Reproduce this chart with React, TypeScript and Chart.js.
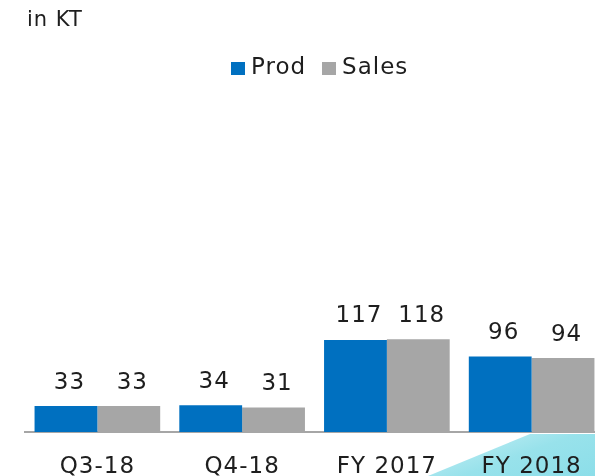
import React, { useEffect, useRef } from "react";
import { Chart, registerables } from "chart.js";

Chart.register(...registerables);

// ---- data ----
const categories = ["Q3-18", "Q4-18", "FY 2017", "FY 2018"];
const prodValues = [33, 34, 117, 96];
const salesValues = [33, 31, 118, 94];
const seriesNames = ["Prod", "Sales"];
const seriesColors = ["#0070C0", "#A6A6A6"];
const unitLabel = "in KT";
const yMin = 0;
const yMax = 200;

const FONT = '"DejaVu Sans", Verdana, sans-serif';
const TEXT_COLOR = "#1e1e1e";

const spacingPlugin = {
  id: "letterSpacing",
  beforeDraw(chart: any) {
    (chart.ctx as any).letterSpacing = "1px";
  },
};

const valueLabelPlugin = {
  id: "valueLabels",
  afterDatasetsDraw(chart: any) {
    const ctx = chart.ctx;
    ctx.save();
    ctx.font = `23px ${FONT}`;
    ctx.fillStyle = TEXT_COLOR;
    ctx.textAlign = "center";
    ctx.textBaseline = "alphabetic";
    (ctx as any).letterSpacing = "1px";
    chart.data.datasets.forEach((ds: any, i: number) => {
      const meta = chart.getDatasetMeta(i);
      meta.data.forEach((el: any, j: number) => {
        ctx.fillText(String(ds.data[j]), el.x + 3.5, el.y - 17.5);
      });
    });
    ctx.restore();
  },
};

export default function App() {
  const canvasRef = useRef<HTMLCanvasElement | null>(null);

  useEffect(() => {
    if (!canvasRef.current) return;
    const chart = new Chart(canvasRef.current, {
      type: "bar",
      data: {
        labels: categories,
        datasets: [prodValues, salesValues].map((vals, i) => ({
          label: seriesNames[i],
          data: vals,
          backgroundColor: seriesColors[i],
          borderWidth: 0,
          categoryPercentage: 0.868,
          barPercentage: 1,
        })),
      },
      options: {
        responsive: false,
        devicePixelRatio: 1,
        animation: false,
        layout: { padding: { left: 25, right: 0, top: 274.6, bottom: 0 } },
        plugins: {
          legend: { display: false },
          title: { display: false },
          tooltip: { enabled: false },
        },
        scales: {
          x: {
            grid: { display: false },
            border: { display: true, color: "#A6A6A6", width: 2 },
            ticks: {
              color: TEXT_COLOR,
              padding: 16,
              font: { family: FONT, size: 23, lineHeight: 1 },
            },
          },
          y: { display: false, min: yMin, max: yMax },
        },
      },
      plugins: [spacingPlugin, valueLabelPlugin],
    });
    return () => chart.destroy();
  }, []);

  return (
    <div
      style={{
        position: "absolute",
        left: 0,
        top: 0,
        width: 595,
        height: 476,
        overflow: "hidden",
        background: "#ffffff",
        fontFamily: FONT,
        color: TEXT_COLOR,
      }}
    >
      <div
        style={{
          position: "absolute",
          left: 0,
          top: 0,
          width: 595,
          height: 476,
          clipPath: "polygon(428px 476px, 530px 434px, 595px 434px, 595px 476px)",
          background:
            "linear-gradient(160deg, #f3eef6 0%, #f3eef6 84%, #b9ebf2 88%, #98e2eb 93%, #8cdee9 100%)",
        }}
      />
      <canvas
        ref={canvasRef}
        width={604}
        height={495}
        style={{ position: "absolute", left: 0, top: 0, width: 604, height: 495 }}
      />
      <div
        style={{
          position: "absolute",
          left: 27,
          top: 7,
          fontSize: 21,
          lineHeight: "24px",
          letterSpacing: "1px",
          whiteSpace: "nowrap",
        }}
      >
        {unitLabel}
      </div>
      <div
        style={{
          position: "absolute",
          left: 231,
          top: 55,
          display: "flex",
          alignItems: "flex-start",
          fontSize: 23,
          lineHeight: "23px",
          letterSpacing: "1px",
          whiteSpace: "nowrap",
        }}
      >
        {seriesNames.map((name, i) => (
          <div key={name} style={{ display: "flex", alignItems: "flex-start", marginRight: 16 }}>
            <span
              style={{
                display: "inline-block",
                width: 14,
                height: 13,
                marginTop: 7,
                marginRight: 6,
                background: seriesColors[i],
              }}
            />
            <span>{name}</span>
          </div>
        ))}
      </div>
    </div>
  );
}
